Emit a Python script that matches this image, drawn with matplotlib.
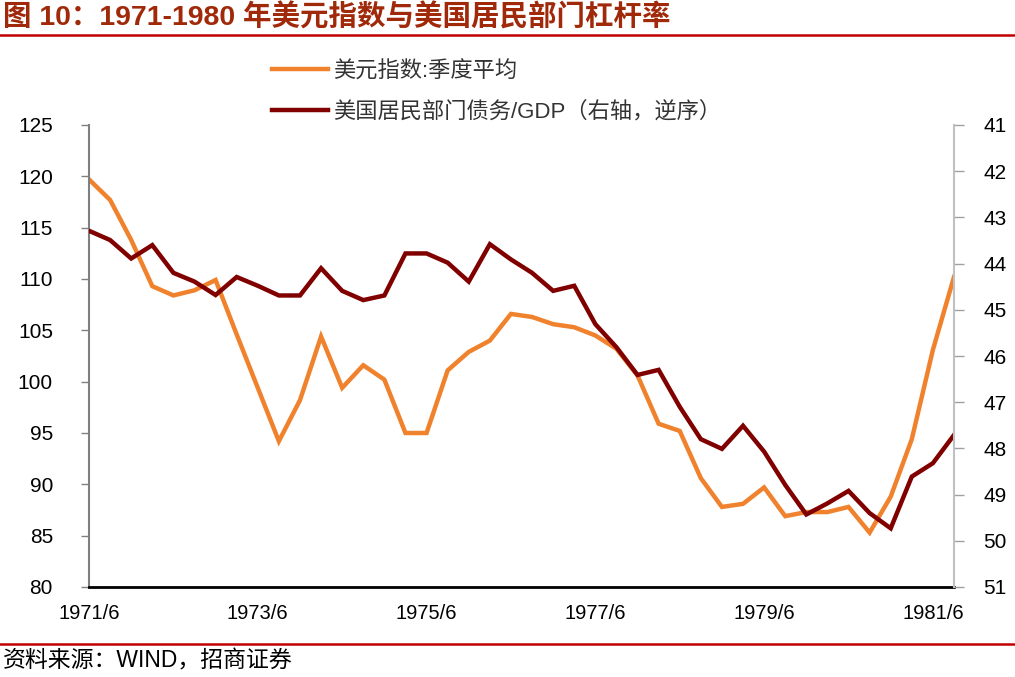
import numpy as np
import matplotlib.pyplot as plt

plt.rcParams['font.family'] = ['Liberation Sans', 'Noto Sans CJK SC']
plt.rcParams['axes.unicode_minus'] = False

# quarterly, 1971/6 .. 1981/9
quarters = [f"{1971 + (5 + 3 * i) // 12}/{(5 + 3 * i) % 12 + 1}" for i in range(42)]

dxy = [119.7, 117.7, 113.8, 109.3, 108.4, 108.9, 109.9, 104.6, 99.4, 94.2,
       98.2, 104.4, 99.4, 101.6, 100.2, 95.0, 95.0, 101.1, 102.9, 104.0,
       106.6, 106.3, 105.6, 105.3, 104.5, 103.2, 100.6, 95.9, 95.2, 90.6,
       87.8, 88.1, 89.7, 86.9, 87.3, 87.3, 87.8, 85.3, 88.8, 94.4,
       103.1, 110.2]

debt_gdp = [43.29, 43.49, 43.89, 43.60, 44.20, 44.39, 44.68, 44.29, 44.48, 44.69,
            44.69, 44.10, 44.59, 44.79, 44.69, 43.78, 43.78, 43.98, 44.39, 43.58,
            43.91, 44.20, 44.59, 44.48, 45.31, 45.81, 46.41, 46.30, 47.10, 47.80,
            48.01, 47.51, 48.07, 48.79, 49.43, 49.19, 48.92, 49.40, 49.73, 48.61,
            48.32, 47.71]

tick_idx = [0, 8, 16, 24, 32, 40]
tick_labels = [quarters[i] for i in tick_idx]

title = "图 10：1971-1980 年美元指数与美国居民部门杠杆率"
source = "资料来源：WIND，招商证券"
label_dxy = "美元指数:季度平均"
label_debt = "美国居民部门债务/GDP（右轴，逆序）"

orange = "#F0822D"
darkred = "#800000"

fig = plt.figure(figsize=(10.15, 6.77), dpi=100)
ax = fig.add_axes([89 / 1015, 1 - 587 / 677, (954 - 89) / 1015, (587 - 125) / 677])
ax2 = ax.twinx()

x = np.arange(len(quarters))
l1, = ax.plot(x, dxy, color=orange, lw=3.2, solid_joinstyle='miter')
l2, = ax2.plot(x, debt_gdp, color=darkred, lw=3.2, solid_joinstyle='miter')

ax.set_xlim(0, len(quarters) - 1)
ax.set_ylim(80, 125)
ax.set_yticks(np.arange(80, 126, 5))
ax2.set_ylim(51, 41)
ax2.set_yticks(np.arange(41, 52, 1))
ax.set_xticks(tick_idx)
ax.set_xticklabels(tick_labels)

for a in (ax, ax2):
    a.spines['top'].set_visible(False)
ax.spines['left'].set_color('#808080')
ax.spines['left'].set_linewidth(1.5)
ax.spines['bottom'].set_color('black')
ax.spines['bottom'].set_linewidth(2)
ax.spines['right'].set_visible(False)
ax2.spines['left'].set_visible(False)
ax2.spines['bottom'].set_visible(False)
ax2.spines['right'].set_color('#C0C0C0')
ax2.spines['right'].set_linewidth(1.5)

ax.tick_params(axis='y', length=6, width=1, color='#808080', pad=20, labelsize=15)
ax.tick_params(axis='x', length=0, pad=12, labelsize=14.5)
ax2.tick_params(axis='y', length=7, width=1, color='#A0A0A0', pad=14, labelsize=15)

ax.legend([l1, l2], [label_dxy, label_debt], loc='upper left',
          bbox_to_anchor=(272 / 1015, 1 - 61 / 677), bbox_transform=fig.transFigure,
          frameon=False, fontsize=16, handlelength=2.5, handletextpad=0.25,
          labelspacing=0.85, borderpad=0, borderaxespad=0, labelcolor='#333333')

fig.text(3 / 1015, 1 - 17 / 677, title, fontsize=20.5, fontweight='bold',
         color='#A0290A', va='center', ha='left')
fig.add_artist(plt.Line2D([0, 1], [1 - 35 / 677, 1 - 35 / 677], color='#C00000', lw=1.8))
fig.add_artist(plt.Line2D([0, 1], [1 - 644 / 677, 1 - 644 / 677], color='#C00000', lw=1.8))
fig.text(3 / 1015, 1 - 661 / 677, source, fontsize=16.5, color='black', va='center', ha='left')

fig.savefig("out.png", dpi=100)
